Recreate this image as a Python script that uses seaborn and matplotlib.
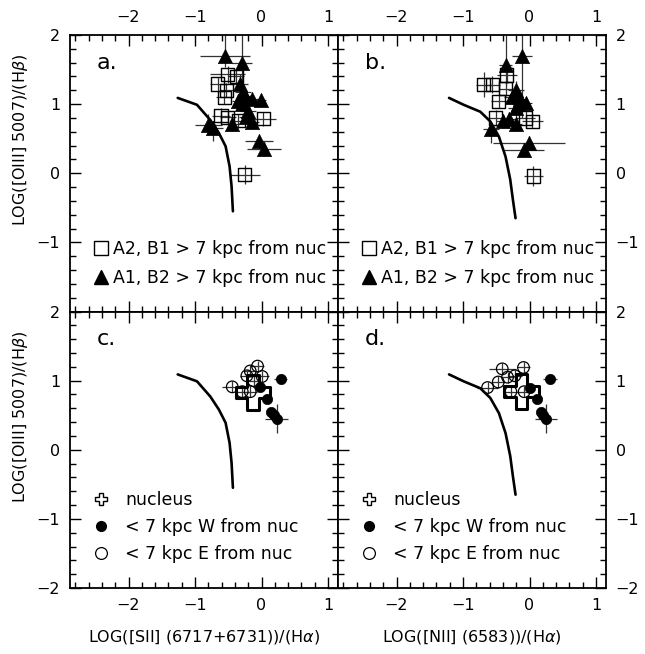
import numpy as np
import pandas as pd
import matplotlib
matplotlib.use("Agg")
import matplotlib.pyplot as plt
from matplotlib.lines import Line2D
from matplotlib.ticker import MultipleLocator
import seaborn as sns

# demarcation curves
curve_s2_x = [-1.26, -0.97, -0.77, -0.64, -0.54, -0.48, -0.45, -0.43]
curve_s2_y = [1.09, 0.99, 0.77, 0.58, 0.39, 0.10, -0.19, -0.55]
curve_n2_x = [-1.21, -0.99, -0.74, -0.59, -0.46, -0.36, -0.29, -0.25, -0.21]
curve_n2_y = [1.09, 0.99, 0.89, 0.75, 0.53, 0.24, -0.09, -0.38, -0.65]

# panel a: [SII]/Ha, > 7 kpc
sq_a_x = [-0.51, -0.38, -0.66, -0.56, -0.53, -0.61, -0.51, -0.35, 0.03, -0.25]
sq_a_y = [1.43, 1.40, 1.29, 1.10, 1.20, 0.83, 0.81, 0.76, 0.79, -0.02]
sq_a_xe = [0.26, 0.12, 0.12, 0.12, 0.10, 0.14, 0.12, 0.12, 0.19, 0.22]
sq_a_ye = [0.12, 0.10, 0.10, 0.10, 0.10, 0.12, 0.10, 0.10, 0.10, 0.14]

tri_a_x = [-0.55, -0.29, -0.33, -0.28, -0.35, -0.15, -0.01, -0.20, -0.24, -0.14,
           -0.44, -0.80, -0.73, -0.04, 0.04, -0.30, -0.25]
tri_a_y = [1.69, 1.59, 1.29, 1.17, 1.05, 1.07, 1.06, 0.90, 0.81, 0.74,
           0.71, 0.70, 0.65, 0.46, 0.35, 1.00, 1.12]
tri_a_xe = [0.38, 0.15, 0.12, 0.12, 0.10, 0.10, 0.08, 0.12, 0.10, 0.10,
            0.10, 0.20, 0.15, 0.21, 0.26, 0.10, 0.10]
tri_a_lo = [0.15, 0.30, 0.15, 0.10, 0.10, 0.08, 0.08, 0.12, 0.10, 0.10,
            0.10, 0.15, 0.18, 0.10, 0.10, 0.10, 0.10]
tri_a_hi = [0.60, 0.60, 0.15, 0.10, 0.10, 0.08, 0.08, 0.12, 0.10, 0.10,
            0.10, 0.15, 0.10, 0.10, 0.10, 0.10, 0.10]

# panel b: [NII]/Ha, > 7 kpc
sq_b_x = [-0.69, -0.56, -0.34, -0.46, -0.51, -0.06, 0.04, -0.36, 0.06]
sq_b_y = [1.28, 1.28, 1.42, 1.04, 0.80, 0.80, 0.75, 1.22, -0.04]
sq_b_xe = [0.12, 0.12, 0.15, 0.12, 0.12, 0.14, 0.16, 0.10, 0.15]
sq_b_ye = [0.18, 0.12, 0.12, 0.10, 0.12, 0.10, 0.10, 0.10, 0.14]

tri_b_x = [-0.11, -0.36, -0.21, -0.26, -0.14, -0.06, -0.21, -0.31, -0.40, -0.21,
           -0.58, -0.01, -0.08, -0.17]
tri_b_y = [1.70, 1.57, 1.21, 1.11, 1.08, 1.01, 0.94, 0.78, 0.75, 0.71,
           0.64, 0.44, 0.34, 1.00]
tri_b_xe = [0.15, 0.10, 0.12, 0.12, 0.10, 0.10, 0.12, 0.10, 0.10, 0.10,
            0.12, 0.54, 0.30, 0.10]
tri_b_lo = [0.90, 0.30, 0.12, 0.10, 0.10, 0.10, 0.12, 0.10, 0.10, 0.10,
            0.20, 0.10, 0.10, 0.10]
tri_b_hi = [0.50, 0.60, 0.12, 0.10, 0.10, 0.10, 0.12, 0.10, 0.10, 0.10,
            0.10, 0.10, 0.10, 0.10]

# panels c, d: < 7 kpc and nucleus
nuc_c = (-0.13, 0.83)
nuc_d = (-0.12, 0.84)

west_c_x = [0.29, -0.02, 0.09, 0.15, 0.23, 0.19]
west_c_y = [1.02, 0.91, 0.73, 0.54, 0.45, 0.50]
west_d_x = [0.31, 0.00, 0.12, 0.18, 0.25, 0.21]
west_d_y = [1.02, 0.90, 0.74, 0.54, 0.45, 0.50]
west_xe = [0.10, 0.04, 0.04, 0.05, 0.17, 0.05]
west_ye = [0.04, 0.04, 0.04, 0.05, 0.21, 0.05]

east_c_x = [-0.17, -0.06, -0.22, 0.01, -0.12, -0.44, -0.29, -0.17]
east_c_y = [1.14, 1.21, 1.07, 1.06, 1.00, 0.91, 0.84, 0.84]
east_d_x = [-0.63, -0.47, -0.33, -0.41, -0.09, -0.22, -0.28, -0.08]
east_d_y = [0.90, 0.98, 1.05, 1.17, 1.19, 1.07, 0.84, 0.84]
east_xe = [0.10, 0.10, 0.10, 0.10, 0.10, 0.16, 0.10, 0.10]
east_ye = [0.08, 0.08, 0.08, 0.08, 0.08, 0.08, 0.08, 0.08]
east_d_xe = [0.16, 0.10, 0.10, 0.20, 0.10, 0.10, 0.10, 0.10]

x_ticks = [-2, -1, 0, 1]
xlabel_s2 = "LOG([SII] (6717+6731))/(H$\\alpha$)"
xlabel_n2 = "LOG([NII] (6583))/(H$\\alpha$)"
ylabel = "LOG([OIII] 5007)/(H$\\beta$)"

sns.set_style("ticks")
plt.rcParams["font.family"] = ["DejaVu Sans"]
plt.rcParams["mathtext.fontset"] = "dejavusans"
for key in ["text.color", "axes.labelcolor", "xtick.color", "ytick.color",
            "axes.edgecolor"]:
    plt.rcParams[key] = "black"

fig, axes = plt.subplots(2, 2, figsize=(6.45, 6.54), dpi=100)
fig.subplots_adjust(left=0.1085, right=0.9395, top=0.9465, bottom=0.1009,
                    wspace=0, hspace=0)
ax_a, ax_b = axes[0]
ax_c, ax_d = axes[1]

ebar_kw = dict(fmt="none", ecolor="0.2", elinewidth=0.9, capsize=0, zorder=2)


def draw_curve(ax, cx, cy):
    df = pd.DataFrame({"x": cx, "y": cy})
    sns.lineplot(data=df, x="x", y="y", sort=False, estimator=None,
                 color="black", linewidth=1.9, ax=ax, zorder=3)


def draw_far(ax, sx, sy, sxe, sye, tx, ty, txe, tlo, thi):
    ax.errorbar(sx, sy, xerr=sxe, yerr=sye, **ebar_kw)
    ax.errorbar(tx, ty, xerr=txe, yerr=[tlo, thi], **ebar_kw)
    sns.scatterplot(x=sx, y=sy, marker="s", s=90, facecolor="none",
                    edgecolor="black", linewidth=1.0, ax=ax, zorder=4)
    sns.scatterplot(x=tx, y=ty, marker="^", s=105, color="black",
                    edgecolor="black", linewidth=0.5, ax=ax, zorder=5)
    handles = [
        Line2D([], [], marker="s", ls="none", ms=9.5, mfc="none", mec="black", mew=1.0),
        Line2D([], [], marker="^", ls="none", ms=10.5, mfc="black", mec="black"),
    ]
    ax.legend(handles, ["A2, B1 > 7 kpc from nuc", "A1, B2 > 7 kpc from nuc"],
              loc="lower left", bbox_to_anchor=(0.085, 0.09), frameon=False,
              fontsize=12.5, handlelength=0.9, handletextpad=0.25,
              labelspacing=0.62, borderpad=0, borderaxespad=0)


def draw_near(ax, nuc, wx, wy, ex, ey, exe):
    ax.errorbar(wx, wy, xerr=west_xe, yerr=west_ye, **ebar_kw)
    ax.errorbar(ex, ey, xerr=exe, yerr=east_ye, **ebar_kw)
    sns.scatterplot(x=[nuc[0]], y=[nuc[1]], marker="P", s=620, facecolor="none",
                    edgecolor="black", linewidth=2.2, ax=ax, zorder=4)
    sns.scatterplot(x=ex, y=ey, marker="o", s=70, facecolor="none",
                    edgecolor="black", linewidth=0.9, ax=ax, zorder=5)
    sns.scatterplot(x=wx, y=wy, marker="o", s=55, color="black",
                    edgecolor="black", linewidth=0.5, ax=ax, zorder=6)
    handles = [
        Line2D([], [], marker="P", ls="none", ms=9, mfc="none", mec="black", mew=1.0),
        Line2D([], [], marker="o", ls="none", ms=7, mfc="black", mec="black"),
        Line2D([], [], marker="o", ls="none", ms=8.5, mfc="none", mec="black", mew=0.9),
    ]
    ax.legend(handles, ["nucleus", "< 7 kpc W from nuc", "< 7 kpc E from nuc"],
              loc="lower left", bbox_to_anchor=(0.085, 0.09), frameon=False,
              fontsize=12.5, handlelength=0.9, handletextpad=0.95,
              labelspacing=0.52, borderpad=0, borderaxespad=0)


draw_curve(ax_a, curve_s2_x, curve_s2_y)
draw_far(ax_a, sq_a_x, sq_a_y, sq_a_xe, sq_a_ye,
         tri_a_x, tri_a_y, tri_a_xe, tri_a_lo, tri_a_hi)
draw_curve(ax_b, curve_n2_x, curve_n2_y)
draw_far(ax_b, sq_b_x, sq_b_y, sq_b_xe, sq_b_ye,
         tri_b_x, tri_b_y, tri_b_xe, tri_b_lo, tri_b_hi)
draw_curve(ax_c, curve_s2_x, curve_s2_y)
draw_near(ax_c, nuc_c, west_c_x, west_c_y, east_c_x, east_c_y, east_xe)
draw_curve(ax_d, curve_n2_x, curve_n2_y)
draw_near(ax_d, nuc_d, west_d_x, west_d_y, east_d_x, east_d_y, east_d_xe)

for ax, lab in zip([ax_a, ax_b, ax_c, ax_d], ["a.", "b.", "c.", "d."]):
    ax.set_xlim(-2.88, 1.15)
    ax.set_ylim(-2, 2)
    ax.set_xticks(x_ticks)
    ax.xaxis.set_minor_locator(MultipleLocator(0.2))
    ax.yaxis.set_minor_locator(MultipleLocator(0.2))
    ax.tick_params(which="both", direction="in", top=True, right=True,
                   labelsize=11.5, width=1.0, pad=7)
    ax.tick_params(which="major", length=8)
    ax.tick_params(which="minor", length=4)
    for sp in ax.spines.values():
        sp.set_linewidth(1.3)
    ax.set_xlabel("")
    ax.set_ylabel("")
    ax.text(0.1, 0.9, lab, transform=ax.transAxes, fontsize=16,
            ha="left", va="center")

for ax in [ax_a, ax_b]:
    ax.set_yticks([-1, 0, 1, 2])
    ax.tick_params(labeltop=True, labelbottom=False)
for ax in [ax_c, ax_d]:
    ax.set_yticks([-2, -1, 0, 1, 2])
    ax.tick_params(labeltop=False, labelbottom=True)
for ax in [ax_a, ax_c]:
    ax.tick_params(labelleft=True, labelright=False)
    ax.set_ylabel(ylabel, fontsize=11.5)
    ax.yaxis.set_label_coords(-0.15, 0.62)
for ax in [ax_b, ax_d]:
    ax.tick_params(labelleft=False, labelright=True)

ax_c.set_xlabel(xlabel_s2, fontsize=11.5, labelpad=11)
ax_d.set_xlabel(xlabel_n2, fontsize=11.5, labelpad=11)

fig.savefig("out.png", dpi=100)
